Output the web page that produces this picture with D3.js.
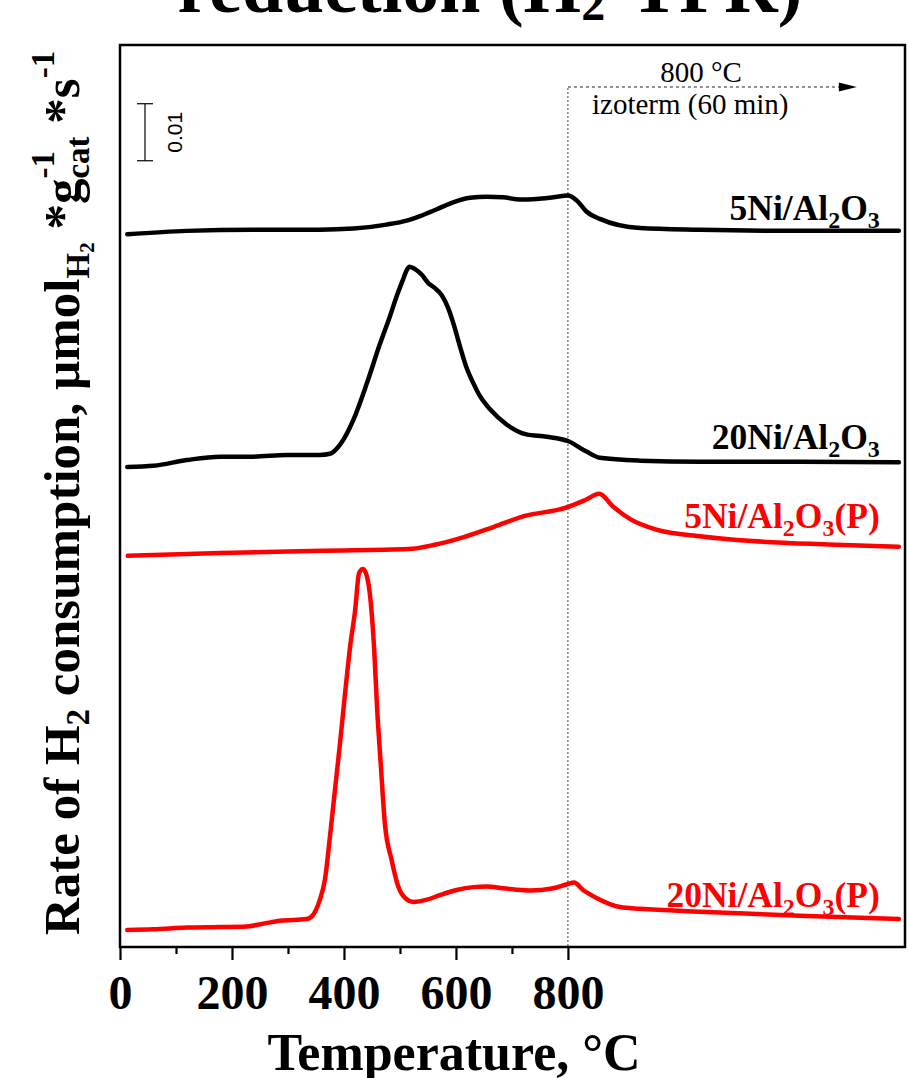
<!DOCTYPE html>
<html>
<head>
<meta charset="utf-8">
<script src="https://cdn.jsdelivr.net/npm/d3@7"></script>
<style>
  body { margin: 0; background: #fff; }
  svg { display: block; }
</style>
</head>
<body>
<svg id="chart"></svg>
<script>
// Temperature (°C, past 800 the isotherm time is mapped on the same axis) and
// H2 consumption signal above each curve's own baseline, in 1e-3 µmol g-1 s-1
const t5Ni = [13, 119, 238, 357, 417, 476, 512, 536, 566, 595, 625, 655, 684, 714, 744, 774, 800, 816, 833, 857, 929, 1036, 1214, 1391];
const r5Ni = [0, 0.6, 0.8, 0.8, 1.0, 1.7, 2.4, 3.2, 4.4, 5.6, 6.4, 6.6, 6.5, 6.1, 6.2, 6.5, 6.8, 5.9, 4.0, 2.7, 1.1, 0.8, 0.6, 0.6];

const t20Ni = [13, 60, 119, 179, 238, 298, 357, 375, 393, 417, 441, 464, 482, 494, 506, 512, 517, 527, 539, 551, 562, 574, 586, 595, 607, 619, 631, 643, 661, 691, 726, 762, 801, 833, 857, 929, 1036, 1214, 1391];
const r20Ni = [0, 0.2, 1.2, 1.8, 1.8, 2.1, 2.1, 2.3, 3.9, 8.3, 14.7, 21.5, 26.4, 29.9, 33.0, 34.5, 35.1, 34.7, 33.7, 32.2, 31.4, 30.2, 27.9, 25.3, 21.2, 17.4, 14.7, 12.4, 10.1, 7.4, 5.7, 5.3, 4.5, 2.7, 1.6, 1.1, 0.9, 0.9, 0.8];

const t5NiP = [14, 180, 361, 515, 560, 614, 668, 723, 795, 831, 856, 881, 912, 958, 1039, 1129, 1264, 1391];
const r5NiP = [0, 0.5, 0.9, 1.2, 1.9, 3.3, 5.1, 7.0, 8.4, 9.8, 10.9, 8.6, 6.4, 4.6, 3.4, 2.6, 2.0, 1.6];

const t20NiP = [13, 59, 119, 179, 226, 256, 286, 333, 342, 357, 366, 375, 384, 393, 402, 411, 420, 427, 434, 441, 448, 454, 459, 466, 473, 485, 497, 509, 524, 548, 571, 601, 631, 655, 684, 732, 774, 798, 811, 827, 851, 893, 929, 1036, 1214, 1391];
const r20NiP = [0, 0.1, 0.4, 0.5, 0.6, 1.1, 1.6, 1.9, 2.3, 5.3, 8.8, 16.4, 24.6, 32.8, 41.5, 49.7, 56.1, 62.6, 63.3, 62.0, 57.3, 49.1, 39.2, 28.6, 18.7, 12.3, 7.6, 5.6, 4.9, 5.3, 6.1, 7.0, 7.5, 7.6, 7.3, 6.9, 7.3, 8.0, 8.3, 7.0, 5.6, 4.0, 3.7, 3.2, 2.5, 1.9];

// vertical stacking offsets of the curves (same units)
const offsets = [125.0, 84.2, 68.6, 3.0];

const xTicks = [0, 200, 400, 600, 800];
const xMinor = [100, 300, 500, 700];
const isoTemp = 800;
const scaleBar = 10; // 0.01

const W = 909, H = 1078;
const margin = { top: 45, right: 4, bottom: 131, left: 120 };

const svg = d3.select("#chart").attr("width", W).attr("height", H);

const x = d3.scaleLinear().domain([0, 1402]).range([margin.left, W - margin.right]);
const y = d3.scaleLinear().domain([0, 158.2]).range([H - margin.bottom, margin.top]);

const serif = "'Liberation Serif', 'Times New Roman', serif";

const series = [
  { t: t5Ni, r: r5Ni, color: "#000", off: offsets[0],
    label: [["5Ni/Al", "n"], ["2", "sub"], ["O", "n"], ["3", "sub"]], ly: 127.5 },
  { t: t20Ni, r: r20Ni, color: "#000", off: offsets[1],
    label: [["20Ni/Al", "n"], ["2", "sub"], ["O", "n"], ["3", "sub"]], ly: 87.4 },
  { t: t5NiP, r: r5NiP, color: "#ff0000", off: offsets[2],
    label: [["5Ni/Al", "n"], ["2", "sub"], ["O", "n"], ["3", "sub"], ["(P)", "n"]], ly: 73.5 },
  { t: t20NiP, r: r20NiP, color: "#ff0000", off: offsets[3],
    label: [["20Ni/Al", "n"], ["2", "sub"], ["O", "n"], ["3", "sub"], ["(P)", "n"]], ly: 7.0 }
];

// text with sub/superscripts, shifts in px
function rich(sel, parts, small, down, up) {
  let cur = 0;
  parts.forEach(([s, mode]) => {
    const target = mode === "sub" ? down : mode === "sup" ? -up : 0;
    const ts = sel.append("tspan").text(s).attr("dy", (target - cur) + "px");
    if (mode !== "n") ts.style("font-size", small + "px");
    cur = target;
  });
  return sel;
}

// title (cut off at the top)
const title = svg.append("text")
  .attr("x", 490).attr("y", 12)
  .attr("text-anchor", "middle")
  .style("font-family", serif).style("font-weight", "bold").style("font-size", "74px");
rich(title, [["reduction (H", "n"], ["2", "sub"], ["-TPR)", "n"]], 48, 8, 0);

// isotherm marker
svg.append("line")
  .attr("x1", x(isoTemp)).attr("x2", x(isoTemp))
  .attr("y1", 88).attr("y2", y(0))
  .attr("stroke", "#444").attr("stroke-width", 1).attr("stroke-dasharray", "2,2");

svg.append("line")
  .attr("x1", x(isoTemp)).attr("x2", x(1290))
  .attr("y1", 87).attr("y2", 87)
  .attr("stroke", "#222").attr("stroke-width", 1).attr("stroke-dasharray", "3,3");
svg.append("path")
  .attr("d", `M${x(1316)},87 L${x(1316) - 18},82.5 L${x(1316) - 18},91.5 Z`)
  .attr("fill", "#000");

svg.append("text")
  .attr("x", 701).attr("y", 82).attr("text-anchor", "middle")
  .style("font-family", serif).style("font-size", "29px")
  .text("800 °C");
svg.append("text")
  .attr("x", 592).attr("y", 114)
  .style("font-family", serif).style("font-size", "29px")
  .text("izoterm (60 min)");

// scale bar
const sbBase = 137.9, sbX = 145;
svg.append("line").attr("x1", sbX).attr("x2", sbX)
  .attr("y1", y(sbBase)).attr("y2", y(sbBase + scaleBar))
  .attr("stroke", "#000").attr("stroke-width", 1.2);
[sbBase, sbBase + scaleBar].forEach(v => {
  svg.append("line").attr("x1", sbX - 8).attr("x2", sbX + 8)
    .attr("y1", y(v)).attr("y2", y(v))
    .attr("stroke", "#000").attr("stroke-width", 1.2);
});
svg.append("text")
  .attr("transform", `translate(182,${y(sbBase + scaleBar / 2)}) rotate(-90)`)
  .attr("text-anchor", "middle")
  .style("font-family", "'Liberation Sans', Arial, sans-serif").style("font-size", "21px")
  .text("0.01");

// curves
const line = d3.line()
  .x(d => x(d[0]))
  .y(d => y(d[1]))
  .curve(d3.curveMonotoneX);

series.forEach(s => {
  const pts = s.t.map((t, i) => [t, s.r[i] + s.off]);
  svg.append("path")
    .datum(pts)
    .attr("d", line)
    .attr("fill", "none")
    .attr("stroke", s.color)
    .attr("stroke-width", 4.5)
    .attr("stroke-linejoin", "round")
    .attr("stroke-linecap", "round");
});

// curve labels
series.forEach(s => {
  const t = svg.append("text")
    .attr("x", x(1357)).attr("y", y(s.ly))
    .attr("text-anchor", "end")
    .attr("fill", s.color)
    .style("font-family", serif).style("font-weight", "bold").style("font-size", "35.5px");
  rich(t, s.label, 24, 8, 0);
});

// frame
svg.append("rect")
  .attr("x", x(0)).attr("y", y.range()[1])
  .attr("width", x.range()[1] - x(0)).attr("height", y(0) - y.range()[1])
  .attr("fill", "none").attr("stroke", "#000").attr("stroke-width", 2.5);

// x axis
const gx = svg.append("g")
  .attr("transform", `translate(0,${y(0)})`)
  .call(d3.axisBottom(x).tickValues(xTicks).tickSize(13).tickPadding(15).tickFormat(d3.format("d")));
gx.select(".domain").remove();
gx.selectAll("line").attr("stroke-width", 2.2);
gx.selectAll("text")
  .style("font-family", serif).style("font-weight", "bold").style("font-size", "48px");

const gm = svg.append("g")
  .attr("transform", `translate(0,${y(0)})`)
  .call(d3.axisBottom(x).tickValues(xMinor).tickSize(7).tickFormat(""));
gm.select(".domain").remove();
gm.selectAll("line").attr("stroke-width", 2.2);

// axis titles
svg.append("text")
  .attr("x", 454).attr("y", 1070)
  .attr("text-anchor", "middle")
  .style("font-family", serif).style("font-weight", "bold").style("font-size", "52px")
  .text("Temperature, °C");

const yl = svg.append("text")
  .attr("transform", "translate(79,935) rotate(-90)")
  .style("font-family", serif).style("font-weight", "bold").style("font-size", "51px");
yl.append("tspan").text("Rate of H");
yl.append("tspan").text("2").style("font-size", "33px").attr("dy", "10px");
yl.append("tspan").text(" consumption, µmol").attr("dy", "-10px");
yl.append("tspan").text("H").style("font-size", "33px").attr("dy", "10px");
yl.append("tspan").text("2").style("font-size", "21px").attr("dy", "5px");
yl.append("tspan").text(" *g").attr("dy", "-15px");
const sup1 = yl.append("tspan").text("-1").style("font-size", "33px").attr("dy", "-25px");
const supLen = sup1.node().getComputedTextLength();
yl.append("tspan").text("cat").style("font-size", "33px").attr("dx", -supLen).attr("dy", "35px");
yl.append("tspan").text(" *s").attr("dy", "-10px");
yl.append("tspan").text("-1").style("font-size", "33px").attr("dy", "-25px");
</script>
</body>
</html>
